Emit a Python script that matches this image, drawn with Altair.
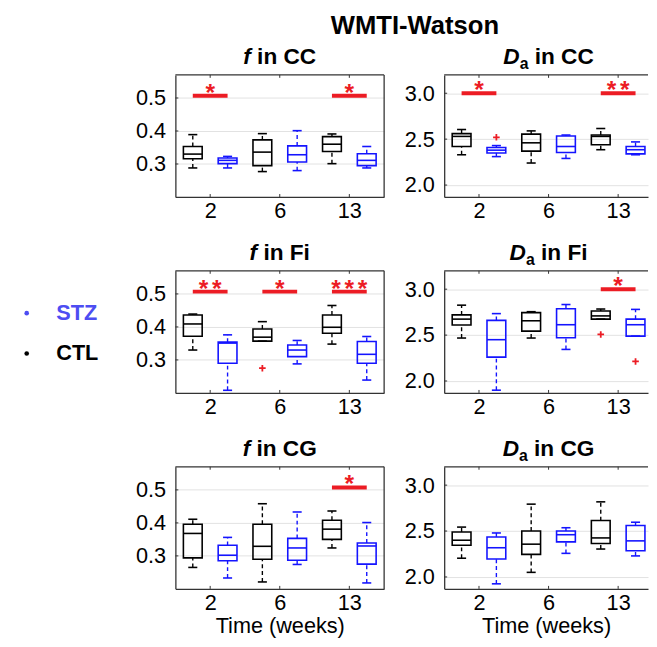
import altair as alt
import pandas as pd

weeks = ["2", "6", "13"]
groups = ["CTL", "STZ"]

# box summaries per week: [lower whisker, q1, median, q3, upper whisker]
fCC_CTL = [[0.288, 0.316, 0.330, 0.353, 0.389], [0.277, 0.295, 0.336, 0.373, 0.392], [0.301, 0.338, 0.360, 0.383, 0.391]]
fCC_STZ = [[0.288, 0.301, 0.311, 0.318, 0.323], [0.280, 0.306, 0.328, 0.355, 0.401], [0.288, 0.295, 0.311, 0.331, 0.353]]
DaCC_CTL = [[2.33, 2.42, 2.53, 2.56, 2.605], [2.24, 2.37, 2.46, 2.555, 2.59], [2.385, 2.44, 2.53, 2.545, 2.616]]
DaCC_STZ = [[2.31, 2.35, 2.38, 2.41, 2.43], [2.29, 2.355, 2.42, 2.535, 2.545], [2.33, 2.34, 2.385, 2.42, 2.47]]
fFi_CTL = [[0.330, 0.372, 0.409, 0.436, 0.439], [0.357, 0.357, 0.369, 0.394, 0.416], [0.348, 0.381, 0.399, 0.436, 0.465]]
fFi_STZ = [[0.208, 0.290, 0.351, 0.354, 0.376], [0.288, 0.310, 0.330, 0.345, 0.359], [0.239, 0.290, 0.317, 0.356, 0.371]]
DaFi_CTL = [[2.468, 2.61, 2.674, 2.72, 2.826], [2.468, 2.543, 2.656, 2.745, 2.755], [2.674, 2.674, 2.709, 2.762, 2.784]]
DaFi_STZ = [[1.90, 2.26, 2.45, 2.66, 2.734], [2.344, 2.472, 2.613, 2.787, 2.833], [2.489, 2.489, 2.613, 2.674, 2.78]]
fCG_CTL = [[0.265, 0.294, 0.368, 0.396, 0.411], [0.221, 0.290, 0.329, 0.396, 0.458], [0.324, 0.350, 0.381, 0.408, 0.436]]
fCG_STZ = [[0.233, 0.285, 0.302, 0.332, 0.356], [0.274, 0.287, 0.324, 0.353, 0.433], [0.218, 0.275, 0.330, 0.339, 0.401]]
DaCG_CTL = [[2.204, 2.346, 2.40, 2.49, 2.543], [2.05, 2.246, 2.357, 2.50, 2.793], [2.304, 2.364, 2.425, 2.614, 2.818]]
DaCG_STZ = [[1.925, 2.196, 2.318, 2.436, 2.479], [2.257, 2.382, 2.46, 2.50, 2.536], [2.229, 2.286, 2.393, 2.561, 2.596]]

# outliers: [week index, group, value]
fCC_out = []
DaCC_out = [[0, "STZ", 2.52]]
fFi_out = [[1, "CTL", 0.275]]
DaFi_out = [[2, "CTL", 2.507], [2, "STZ", 2.213]]
fCG_out = []
DaCG_out = []

# significance: [week index, stars]
fCC_sig = [[0, "*"], [2, "*"]]
DaCC_sig = [[0, "*"], [2, "**"]]
fFi_sig = [[0, "**"], [1, "*"], [2, "***"]]
DaFi_sig = [[2, "*"]]
fCG_sig = [[2, "*"]]
DaCG_sig = []

f_ticks = [0.3, 0.4, 0.5]
Da_ticks = [2.0, 2.5, 3.0]
f_domain = [0.2, 0.57]
Da_domain = [1.87, 3.2]
f_sig_level = 0.507
Da_sig_level = 3.0

legend_groups = ["STZ", "CTL"]

FONT = "Liberation Sans"
CTL_COLOR = "#000000"
STZ_COLOR = "#1414ff"
STZ_LEGEND = "#4d4df2"
RED = "#ec1c24"
FRAME = "#333333"
GRID = "#e2e2e2"

PANEL_H = 124
LEFT_W = 212
RIGHT_W = 207
UNIT = LEFT_W / 3.0
TITLE_SIZE = 23

label_expr = "[" + ",".join("'%s'" % w for w in weeks) + "][datum.value]"

BOLD_W = {' ': 0.278, 'i': 0.278, 'n': 0.611, 'C': 0.722, 'F': 0.611, 'G': 0.778,
          'f': 0.333, 'D': 0.722, 'a': 0.556}


def tw(s, size):
    return sum(BOLD_W[c] for c in s) * size


def title_layers(metric, region, center):
    # (text, style, size, dy, gap before)
    sp = tw(" ", TITLE_SIZE)
    if metric == "f":
        parts = [("f", "italic", TITLE_SIZE, 0, 0), ("in " + region, "normal", TITLE_SIZE, 0, sp)]
    else:
        parts = [("D", "italic", TITLE_SIZE, 0, 0), ("a", "normal", 16, 5, 0),
                 ("in " + region, "normal", TITLE_SIZE, 0, sp)]
    total = sum(tw(p[0], p[2]) + p[4] for p in parts)
    x = center - total / 2.0
    out = []
    for txt, style, size, dy, gap in parts:
        x += gap
        out.append(
            alt.Chart(pd.DataFrame({"t": [txt]}))
            .mark_text(align="left", baseline="alphabetic", fontSize=size, fontWeight="bold",
                       fontStyle=style, color="black", dy=dy)
            .encode(x=alt.value(x), y=alt.value(-11), text="t:N")
        )
        x += tw(txt, size)
    return out


def panel(metric, region, ctl, stz, outliers, sig, width, left_col, bottom_row):
    if metric == "f":
        ydom, yticks, level = f_domain, f_ticks, f_sig_level
    else:
        ydom, yticks, level = Da_domain, Da_ticks, Da_sig_level
    xs = alt.Scale(domain=[-0.5, -0.5 + width / UNIT], nice=False, zero=False)
    ys = alt.Scale(domain=ydom, nice=False, zero=False)
    xaxis = alt.Axis(values=[0, 1, 2], labelExpr=label_expr, labelFontSize=22, labelPadding=4,
                     labelColor="black", labelOverlap=False, ticks=False, grid=False, domain=True,
                     domainColor=FRAME, domainWidth=1.3,
                     title="Time (weeks)" if bottom_row else None, titleFontSize=22,
                     titleFontWeight="normal", titleColor="black", titlePadding=2)
    yaxis = alt.Axis(values=yticks, format=".1f", labelFontSize=22, labelPadding=10,
                     labelColor="black", labelOverlap=False, ticks=False, grid=True, gridColor=GRID,
                     gridWidth=1, domain=True, domainColor=FRAME, domainWidth=1.3, title=None)

    def X(f):
        return alt.X(f + ":Q", scale=xs, axis=xaxis)

    def Y(f):
        return alt.Y(f + ":Q", scale=ys, axis=yaxis)

    color = alt.Color("grp:N", scale=alt.Scale(domain=groups, range=[CTL_COLOR, STZ_COLOR]), legend=None)

    rows = []
    for g, summ in (("CTL", ctl), ("STZ", stz)):
        for i, s in enumerate(summ):
            rows.append(dict(week=i, grp=g, lo=s[0], q1=s[1], med=s[2], q3=s[3], hi=s[4]))
    df = pd.DataFrame(rows)
    base = alt.Chart(df).transform_calculate(
        xc="datum.week + (datum.grp == 'CTL' ? -0.25 : 0.25)"
    ).transform_calculate(
        xl="datum.xc - 0.135", xr="datum.xc + 0.135",
        cl="datum.xc - 0.065", cr="datum.xc + 0.065"
    )

    layers = []
    layers.append(base.mark_rect(fillOpacity=0, strokeWidth=1.6).encode(
        x=X("xl"), x2="xr:Q", y=Y("q1"), y2="q3:Q", stroke=color))
    layers.append(base.mark_rule(strokeWidth=1.6).encode(x=X("xl"), x2="xr:Q", y=Y("med"), color=color))
    layers.append(base.mark_rule(strokeWidth=1.4, strokeDash=[4, 3]).encode(
        x=X("xc"), y=Y("q3"), y2="hi:Q", color=color))
    layers.append(base.mark_rule(strokeWidth=1.4, strokeDash=[4, 3]).encode(
        x=X("xc"), y=Y("lo"), y2="q1:Q", color=color))
    layers.append(base.mark_rule(strokeWidth=1.6).encode(x=X("cl"), x2="cr:Q", y=Y("hi"), color=color))
    layers.append(base.mark_rule(strokeWidth=1.6).encode(x=X("cl"), x2="cr:Q", y=Y("lo"), color=color))

    if outliers:
        odf = pd.DataFrame(outliers, columns=["week", "grp", "val"])
        layers.append(
            alt.Chart(odf).transform_calculate(xc="datum.week + (datum.grp == 'CTL' ? -0.25 : 0.25)")
            .mark_point(shape="M-1,0L1,0M0,-1L0,1", size=45, strokeWidth=1.8, filled=False, color=RED, opacity=1)
            .encode(x=X("xc"), y=Y("val"))
        )

    if sig:
        sdf = pd.DataFrame([dict(week=w, level=level) for w, s in sig])
        layers.append(
            alt.Chart(sdf).transform_calculate(l="datum.week - 0.25", r="datum.week + 0.25")
            .mark_rule(strokeWidth=4, color=RED)
            .encode(x=X("l"), x2="r:Q", y=Y("level"))
        )
        star_rows = []
        for w, s in sig:
            for k in range(len(s)):
                star_rows.append(dict(week=w, k=k, n=len(s), level=level))
        stdf = pd.DataFrame(star_rows)
        layers.append(
            alt.Chart(stdf).transform_calculate(xs="datum.week + (datum.k - (datum.n - 1) / 2) * 0.19")
            .mark_text(text="*", fontSize=25, fontWeight="bold", color=RED, align="center",
                       baseline="alphabetic", dy=5)
            .encode(x=X("xs"), y=Y("level"))
        )

    # frame: top edge (and right edge for the left column), inward tick marks
    one = pd.DataFrame({"z": [0]})
    layers.append(alt.Chart(one).mark_rule(color=FRAME, strokeWidth=1.3).encode(
        x=alt.value(0), x2=alt.value(width), y=alt.value(0)))
    if left_col:
        layers.append(alt.Chart(one).mark_rule(color=FRAME, strokeWidth=1.3).encode(
            x=alt.value(width), y=alt.value(0), y2=alt.value(PANEL_H)))
    wk = pd.DataFrame({"week": [0, 1, 2]})
    layers.append(alt.Chart(wk).mark_rule(color=FRAME, strokeWidth=1).encode(
        x=X("week"), y=alt.value(0), y2=alt.value(3)))
    layers.append(alt.Chart(wk).mark_rule(color=FRAME, strokeWidth=1).encode(
        x=X("week"), y=alt.value(PANEL_H), y2=alt.value(PANEL_H - 3)))
    tk = pd.DataFrame({"v": yticks})
    layers.append(alt.Chart(tk).mark_rule(color=FRAME, strokeWidth=1).encode(
        x=alt.value(0), x2=alt.value(3), y=Y("v")))

    layers += title_layers(metric, region, LEFT_W / 2.0)
    return alt.layer(*layers).properties(width=width, height=PANEL_H)


r1 = alt.hconcat(
    panel("f", "CC", fCC_CTL, fCC_STZ, fCC_out, fCC_sig, LEFT_W, True, False),
    panel("Da", "CC", DaCC_CTL, DaCC_STZ, DaCC_out, DaCC_sig, RIGHT_W, False, False),
    spacing=19)
r2 = alt.hconcat(
    panel("f", "Fi", fFi_CTL, fFi_STZ, fFi_out, fFi_sig, LEFT_W, True, False),
    panel("Da", "Fi", DaFi_CTL, DaFi_STZ, DaFi_out, DaFi_sig, RIGHT_W, False, False),
    spacing=19)
r3 = alt.hconcat(
    panel("f", "CG", fCG_CTL, fCG_STZ, fCG_out, fCG_sig, LEFT_W, True, True),
    panel("Da", "CG", DaCG_CTL, DaCG_STZ, DaCG_out, DaCG_sig, RIGHT_W, False, True),
    spacing=19)
grid = alt.vconcat(r1, r2, r3, spacing=21)

leg_df = pd.DataFrame({"grp": legend_groups})
leg_y = alt.Y("grp:N", scale=alt.Scale(type="point", domain=legend_groups, range=[242, 283], padding=0),
              axis=None)
leg_color = alt.condition("datum.grp == 'STZ'", alt.value(STZ_LEGEND), alt.value("#000000"))
leg_dots = alt.Chart(leg_df).mark_circle(size=22, opacity=1).encode(
    x=alt.value(19), y=leg_y, color=leg_color)
leg_text = alt.Chart(leg_df).mark_text(align="left", baseline="middle", fontSize=22, fontWeight="bold").encode(
    x=alt.value(49), y=leg_y, text="grp:N", color=leg_color)
legend = alt.layer(leg_dots, leg_text).properties(width=100, height=330)

chart = alt.hconcat(legend, grid, spacing=29).properties(
    title=alt.TitleParams("WMTI-Watson", fontSize=26, fontWeight="bold", anchor="middle",
                          frame="bounds", dx=88, offset=8, color="black"),
    padding=0,
).configure(font=FONT).configure_view(stroke=None)

chart.save("out.html", embed_options={"renderer": "svg", "actions": False})
